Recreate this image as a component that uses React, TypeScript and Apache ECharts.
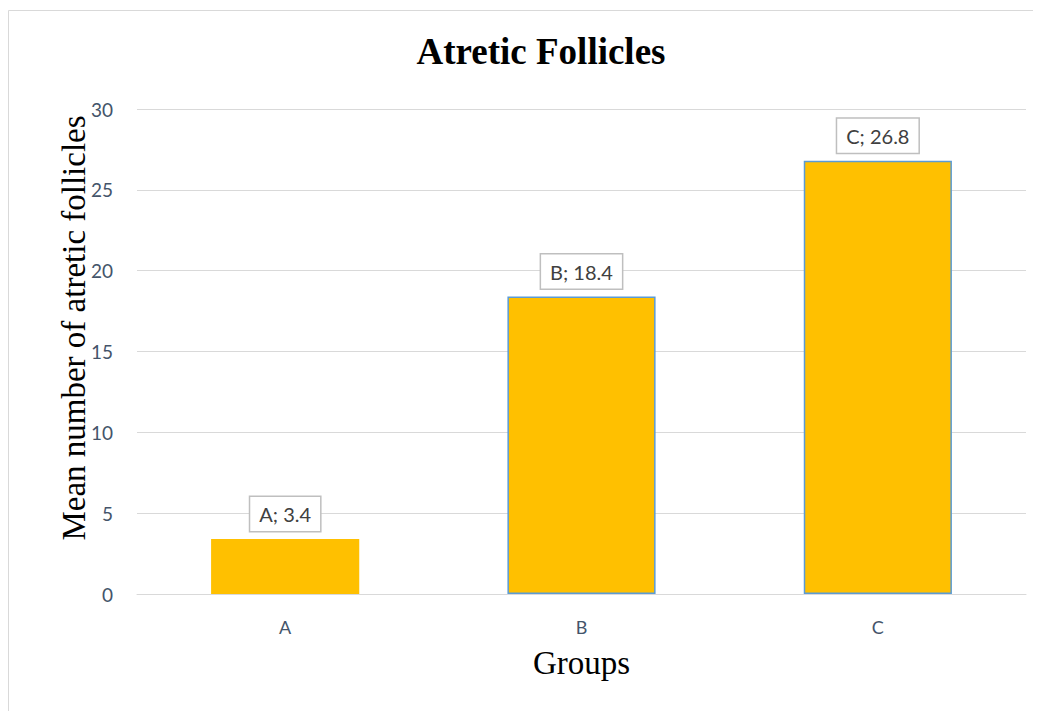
import React, { useEffect, useRef } from "react";
import * as echarts from "echarts";

const categories = ["A", "B", "C"];
const values = [3.4, 18.4, 26.8];
const borderWidths = [0, 1.5, 1.5];
const titleText = "Atretic Follicles";
const yAxisName = "Mean number of atretic follicles";
const xAxisName = "Groups";

export default function App() {
  const ref = useRef<HTMLDivElement>(null);
  useEffect(() => {
    if (!ref.current) return;
    const chart = echarts.init(ref.current, undefined, { renderer: "svg" });
    const sans = "Lato, 'Open Sans', sans-serif";
    const serif = "'Liberation Serif', 'Times New Roman', serif";
    chart.setOption({
      animation: false,
      backgroundColor: "#fff",
      graphic: [
        {
          type: "rect",
          shape: { x: 0.5, y: 2.5, width: 2000, height: 2000 },
          style: { fill: "none", stroke: "#D9D9D9", lineWidth: 1 },
          silent: true,
        },
        {
          type: "text",
          x: 533,
          y: 43,
          style: {
            text: titleText,
            font: `bold 37px ${serif}`,
            fill: "#000",
            align: "center",
            verticalAlign: "middle",
          },
          silent: true,
        },
        {
          type: "text",
          x: 66,
          y: 320,
          rotation: Math.PI / 2,
          style: {
            text: yAxisName,
            font: `33px ${serif}`,
            fill: "#000",
            align: "center",
            verticalAlign: "middle",
          },
          silent: true,
        },
      ],
      grid: { left: 129, right: 15, top: 101, bottom: 117, containLabel: false },
      xAxis: {
        type: "category",
        data: categories,
        name: xAxisName,
        nameLocation: "middle",
        nameGap: 52,
        nameTextStyle: { fontFamily: serif, fontSize: 33, color: "#000" },
        axisLine: { show: true, lineStyle: { color: "#D9D9D9", width: 1 } },
        axisTick: { show: false },
        axisLabel: { fontFamily: sans, fontSize: 18, color: "#44546A", margin: 24 },
      },
      yAxis: {
        type: "value",
        min: 0,
        max: 30,
        interval: 5,
        axisLine: { show: false },
        axisTick: { show: false },
        axisLabel: { fontFamily: sans, fontSize: 19, color: "#44546A", margin: 24 },
        splitLine: { lineStyle: { color: "#D9D9D9", width: 1 } },
      },
      series: [
        {
          type: "bar",
          barWidth: "50%",
          data: values.map((v, i) => ({
            value: v,
            itemStyle: {
              color: "#FFC000",
              borderColor: "#5B9BD5",
              borderWidth: borderWidths[i],
            },
          })),
          label: {
            show: true,
            position: "top",
            distance: 8,
            formatter: (p: any) => `${p.name}; ${p.value}`,
            fontFamily: sans,
            fontSize: 20,
            color: "#404040",
            backgroundColor: "#fff",
            borderColor: "#BFBFBF",
            borderWidth: 1.5,
            padding: [7, 9],
          },
        },
      ],
    });
    return () => chart.dispose();
  }, []);
  return <div ref={ref} style={{ width: 1033, height: 703 }} />;
}
